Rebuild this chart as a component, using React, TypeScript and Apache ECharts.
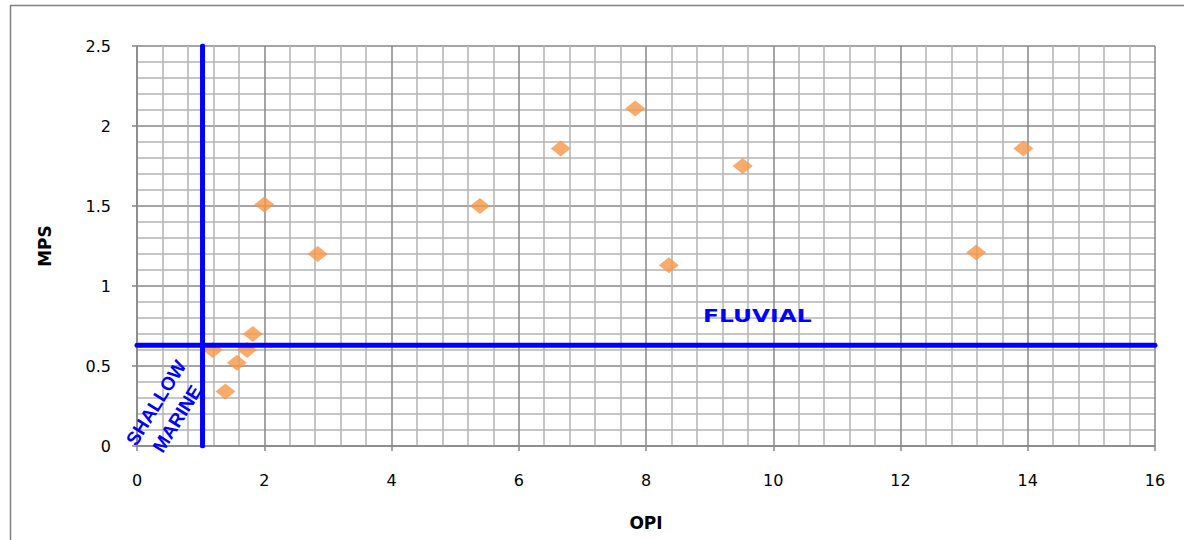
import React, { useEffect, useRef } from "react";
import * as echarts from "echarts";

// Sample points (OPI, MPS)
const opiValues = [1.19, 1.39, 1.57, 1.73, 1.82, 2.0, 2.84, 5.39, 6.66, 7.83, 8.36, 9.52, 13.19, 13.93];
const mpsValues = [0.6, 0.34, 0.52, 0.6, 0.7, 1.51, 1.2, 1.5, 1.86, 2.11, 1.13, 1.75, 1.21, 1.86];

// Boundary lines
const fluvialBoundaryX = [0, 16];
const fluvialBoundaryY = [0.63, 0.63];
const marineBoundaryX = [1.03, 1.03];
const marineBoundaryY = [0, 2.5];

// Annotation labels (data coords)
const annotationTexts = ["FLUVIAL", "SHALLOW", "MARINE"];
const annotationX = [9.75, 0.3, 0.63];
const annotationY = [0.81, 0.27, 0.17];

const xTicks = [0, 2, 4, 6, 8, 10, 12, 14, 16];
const yTicks = [0, 0.5, 1, 1.5, 2, 2.5];

export default function App() {
  const ref = useRef<HTMLDivElement>(null);
  useEffect(() => {
    if (!ref.current) return;
    const chart = echarts.init(ref.current, null, { renderer: "svg" });
    const major = "#878787";
    const minor = "#b3b3b3";
    const labelFont = { fontFamily: "DejaVu Sans", fontSize: 16, color: "#000" };
    chart.setOption({
      animation: false,
      backgroundColor: "#fff",
      grid: { left: 137, top: 46, right: 29, height: 400 },
      xAxis: {
        type: "value",
        min: xTicks[0],
        max: xTicks[xTicks.length - 1],
        interval: 2,
        name: "OPI",
        nameLocation: "middle",
        nameGap: 68,
        nameTextStyle: { fontFamily: "DejaVu Sans", fontSize: 17, fontWeight: "bold", color: "#000" },
        axisLine: { show: true, lineStyle: { color: major, width: 1.5 } },
        axisTick: { show: true, length: 5, lineStyle: { color: major, width: 1.5 } },
        axisLabel: { ...labelFont, margin: 26 },
        splitLine: { show: true, lineStyle: { color: major, width: 1.5 } },
        minorTick: { show: false, splitNumber: 5 },
        minorSplitLine: { show: true, lineStyle: { color: minor, width: 1.5 } },
      },
      yAxis: {
        type: "value",
        min: yTicks[0],
        max: yTicks[yTicks.length - 1],
        interval: 0.5,
        name: "MPS",
        nameLocation: "middle",
        nameGap: 84,
        nameTextStyle: { fontFamily: "DejaVu Sans", fontSize: 17, fontWeight: "bold", color: "#000" },
        axisLine: { show: true, lineStyle: { color: major, width: 1.5 } },
        axisTick: { show: true, length: 5, lineStyle: { color: major, width: 1.5 } },
        axisLabel: { ...labelFont, margin: 26 },
        splitLine: { show: true, lineStyle: { color: major, width: 1.5 } },
        minorTick: { show: false, splitNumber: 5 },
        minorSplitLine: { show: true, lineStyle: { color: minor, width: 1.5 } },
      },
      series: [
        {
          type: "scatter",
          symbol: "diamond",
          symbolSize: [20, 16],
          itemStyle: { color: "#F79646" },
          data: opiValues.map((x, i) => [x, mpsValues[i]]),
          z: 3,
        },
        {
          type: "line",
          data: fluvialBoundaryX.map((x, i) => [x, fluvialBoundaryY[i]]),
          showSymbol: false,
          symbol: "none",
          lineStyle: { color: "#0000ff", width: 5, cap: "round" },
          z: 4,
        },
        {
          type: "line",
          data: marineBoundaryX.map((x, i) => [x, marineBoundaryY[i]]),
          showSymbol: false,
          symbol: "none",
          lineStyle: { color: "#0000ff", width: 5, cap: "round" },
          z: 4,
        },
      ],
    });

    const pts = annotationTexts.map((_, i) =>
      chart.convertToPixel("grid", [annotationX[i], annotationY[i]]) as number[]
    );
    const rot = (58 * Math.PI) / 180;
    const rotatedStyle = {
      fontFamily: "Liberation Sans",
      fontWeight: "bold",
      fontSize: 19,
      fill: "#0000ff",
      align: "center",
      verticalAlign: "middle",
    };
    chart.setOption({
      graphic: [
        {
          type: "rect",
          shape: { x: 10.5, y: 5.5, width: 1300, height: 700 },
          style: { fill: "none", stroke: "#7f7f7f", lineWidth: 1.5 },
          silent: true,
          z: 0,
        },
        {
          type: "text",
          x: pts[0][0],
          y: pts[0][1],
          scaleX: 1.3,
          style: {
            text: annotationTexts[0],
            fontFamily: "DejaVu Sans",
            fontWeight: "bold",
            fontSize: 18,
            fill: "#0000ff",
            align: "center",
            verticalAlign: "middle",
          },
          z: 10,
        },
        {
          type: "text",
          x: pts[1][0],
          y: pts[1][1],
          rotation: rot,
          style: { ...rotatedStyle, text: annotationTexts[1] },
          z: 10,
        },
        {
          type: "text",
          x: pts[2][0],
          y: pts[2][1],
          rotation: rot,
          style: { ...rotatedStyle, text: annotationTexts[2] },
          z: 10,
        },
      ],
    });
    return () => chart.dispose();
  }, []);
  return (
    <div
      ref={ref}
      style={{ position: "fixed", left: 0, top: 0, width: 1184, height: 540 }}
    />
  );
}
